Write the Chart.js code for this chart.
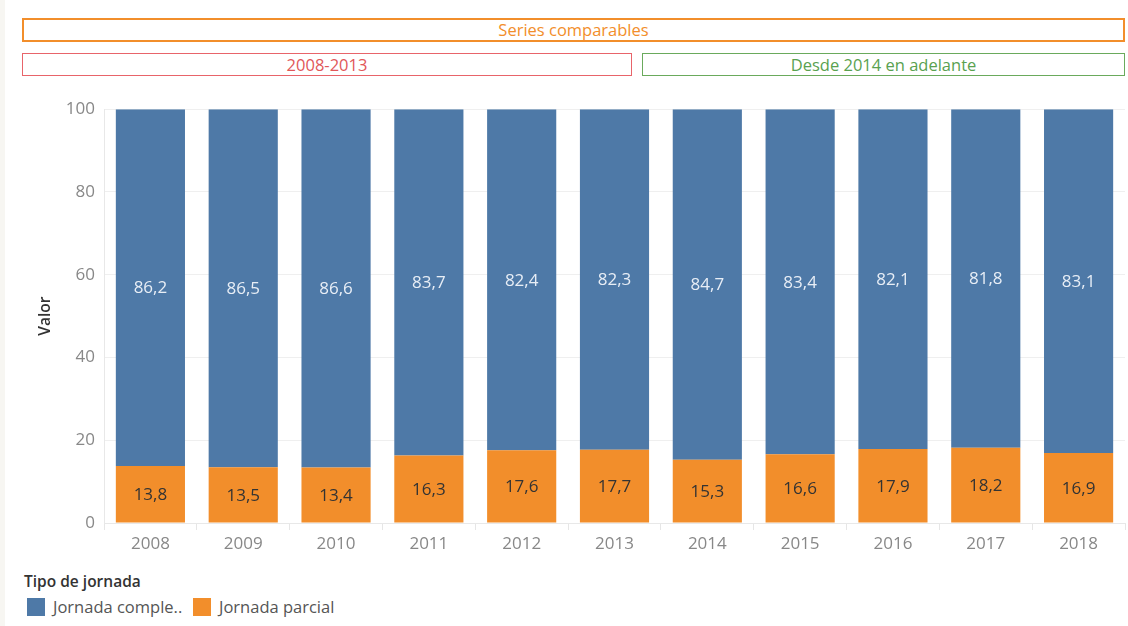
<!DOCTYPE html>
<html>
<head>
<meta charset="utf-8">
<script src="https://cdn.jsdelivr.net/npm/chart.js@4"></script>
<style>
  body { margin: 0; background: #fff; font-family: "Open Sans", sans-serif; }
  #page { position: relative; width: 1128px; height: 626px; overflow: hidden; background: #fff; }
  #page::before { content: ""; position: absolute; left: 0; top: 0; width: 5px; height: 626px; background: #f7f6f2; }
  .box { position: absolute; box-sizing: border-box; text-align: center; font-size: 16.5px; background: #fff; }
  #chartWrap { position: absolute; left: 0; top: 90px; width: 1128px; height: 470px; }
  #legendTitle { position: absolute; left: 24px; top: 570px; font-size: 15.5px; font-weight: 600; color: #333; }
  .legItem { position: absolute; top: 595px; font-size: 16.5px; color: #555; }
  .legItem span.sw { position: absolute; left: 0; top: 3px; width: 18px; height: 18px; }
  .legItem span.tx { position: absolute; left: 26px; top: 0; white-space: nowrap; }
</style>
</head>
<body>
<div id="page">
  <div class="box" style="left:22px;top:18px;width:1103px;height:24px;border:2px solid #f28e2b;color:#f28e2b;line-height:20px;">Series comparables</div>
  <div class="box" style="left:22px;top:53px;width:610px;height:23px;border:1px solid #e8646a;color:#e15759;line-height:22px;">2008-2013</div>
  <div class="box" style="left:642px;top:53px;width:483px;height:23px;border:1px solid #6aaa5c;color:#59a14f;line-height:22px;">Desde 2014 en adelante</div>
  <div id="chartWrap"><canvas id="chart"></canvas></div>
  <div id="legendTitle">Tipo de jornada</div>
  <div class="legItem" style="left:27px;"><span class="sw" style="background:#4e79a7"></span><span class="tx">Jornada comple..</span></div>
  <div class="legItem" style="left:193px;"><span class="sw" style="background:#f28e2b"></span><span class="tx">Jornada parcial</span></div>
</div>
<script>
const years = ['2008', '2009', '2010', '2011', '2012', '2013', '2014', '2015', '2016', '2017', '2018'];
const parcial = [13.8, 13.5, 13.4, 16.3, 17.6, 17.7, 15.3, 16.6, 17.9, 18.2, 16.9];
const completa = [86.2, 86.5, 86.6, 83.7, 82.4, 82.3, 84.7, 83.4, 82.1, 81.8, 83.1];
const yTicks = [0, 20, 40, 60, 80, 100];

// labels in the middle of each segment, comma decimals
const barLabels = {
    id: 'barLabels',
    afterDatasetsDraw(chart) {
        const ctx = chart.ctx;
        ctx.save();
        ctx.font = '17px "Open Sans"';
        ctx.textAlign = 'center';
        ctx.textBaseline = 'middle';
        chart.data.datasets.forEach((ds, i) => {
            const meta = chart.getDatasetMeta(i);
            ctx.fillStyle = ds.labelColor;
            meta.data.forEach((bar, j) => {
                const p = bar.getProps(['x', 'y', 'base'], true);
                const txt = ds.data[j].toFixed(1).replace('.', ',');
                ctx.fillText(txt, p.x, (p.y + p.base) / 2 + 1);
            });
        });
        ctx.restore();
    }
};

new Chart(document.getElementById('chart'), {
    type: 'bar',
    data: {
        labels: years,
        datasets: [
            { label: 'Jornada parcial', data: parcial, backgroundColor: '#f28e2b', labelColor: '#333333', barPercentage: 0.745, categoryPercentage: 1 },
            { label: 'Jornada completa', data: completa, backgroundColor: '#4e79a7', labelColor: '#e8eef6', barPercentage: 0.745, categoryPercentage: 1 }
        ]
    },
    options: {
        responsive: true,
        maintainAspectRatio: false,
        animation: false,
        layout: { padding: { top: 18, right: 3, left: 36, bottom: 0 } },
        plugins: { legend: { display: false }, tooltip: { enabled: false } },
        scales: {
            x: {
                stacked: true,
                afterFit(s) { s.height = 37; },
                border: { color: '#e8e8e8' },
                grid: { drawOnChartArea: false, color: '#e6e6e6', tickLength: 7, offset: true },
                ticks: { color: '#888', font: { size: 17, family: 'Open Sans' }, padding: 4 }
            },
            y: {
                stacked: true,
                min: 0,
                max: 100,
                afterFit(s) { s.width = 68; },
                afterBuildTicks(s) { s.ticks = yTicks.map(v => ({ value: v })); },
                border: { color: '#e8e8e8' },
                grid: { color: '#efefef', drawTicks: false },
                title: { display: true, text: 'Valor', color: '#333', font: { size: 15.5, weight: '600', family: 'Open Sans' }, padding: 0 },
                ticks: { color: '#888', font: { size: 17, family: 'Open Sans' }, padding: 9 }
            }
        }
    },
    plugins: [barLabels]
});
</script>
</body>
</html>
